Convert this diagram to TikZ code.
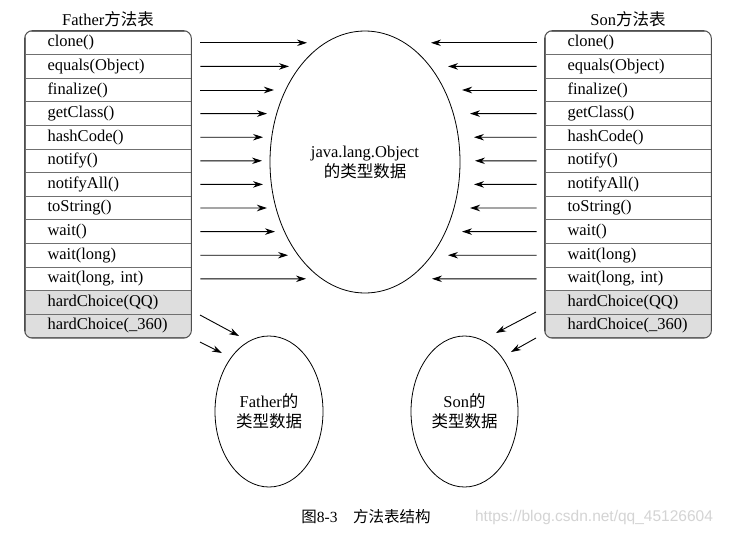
\documentclass[tikz,border=0pt]{standalone}
\usepackage{fontspec}
\setmainfont{Liberation Serif}
\newfontfamily\cjk{Noto Sans CJK SC}
\newfontfamily\wmfont{Liberation Sans}
\usetikzlibrary{shapes.geometric,arrows.meta}
\definecolor{rowgray}{HTML}{DEDEDE}
\definecolor{linegray}{HTML}{707070}
\definecolor{wmgray}{HTML}{D4D4D4}
\tikzset{
  row/.style={draw=linegray, line width=0.8pt, minimum height=23.6pt,
    text width=121pt, inner xsep=22.5pt, inner ysep=0pt, align=left,
    font=\fontsize{16.5}{20}\selectfont},
  grayrow/.style={row, fill=rowgray},
  typedata/.style={ellipse, draw, line width=0.8pt, inner sep=0pt,
    align=center, font=\fontsize{16.5}{20}\selectfont},
  arr/.style={-{Stealth[length=10pt,width=6.5pt]}, line width=0.9pt},
}
\begin{document}
\begin{tikzpicture}[x=1pt,y=-1pt]
\path[fill=white,use as bounding box] (0,0) rectangle (733,533);

% titles
\node[font=\fontsize{16.5}{20}\selectfont] (ftitle) at (108,19) {Father{\cjk 方法表}};
\node[font=\fontsize{16.5}{20}\selectfont] (stitle) at (628,19) {Son{\cjk 方法表}};

% Father method table
\begin{scope}
\clip[rounded corners=8pt] (25,31) rectangle (191,338);
\node[row] (f1) at (108,42.8) {clone()};
\node[row] (f2) at (108,66.4) {equals(Object)};
\node[row] (f3) at (108,90.0) {finalize()};
\node[row] (f4) at (108,113.6) {getClass()};
\node[row] (f5) at (108,137.2) {hashCode()};
\node[row] (f6) at (108,160.8) {notify()};
\node[row] (f7) at (108,184.4) {notifyAll()};
\node[row] (f8) at (108,208.0) {toString()};
\node[row] (f9) at (108,231.6) {wait()};
\node[row] (f10) at (108,255.2) {wait(long)};
\node[row] (f11) at (108,278.8) {wait(long, int)};
\node[grayrow] (f12) at (108,302.4) {hardChoice(QQ)};
\node[grayrow] (f13) at (108,326.0) {hardChoice(\_360)};
\end{scope}
\draw[draw=linegray!70!black, line width=1pt, rounded corners=8pt] (f1.north west) rectangle (f13.south east);

% Son method table
\begin{scope}
\clip[rounded corners=8pt] (545,31) rectangle (711,338);
\node[row] (s1) at (628,42.8) {clone()};
\node[row] (s2) at (628,66.4) {equals(Object)};
\node[row] (s3) at (628,90.0) {finalize()};
\node[row] (s4) at (628,113.6) {getClass()};
\node[row] (s5) at (628,137.2) {hashCode()};
\node[row] (s6) at (628,160.8) {notify()};
\node[row] (s7) at (628,184.4) {notifyAll()};
\node[row] (s8) at (628,208.0) {toString()};
\node[row] (s9) at (628,231.6) {wait()};
\node[row] (s10) at (628,255.2) {wait(long)};
\node[row] (s11) at (628,278.8) {wait(long, int)};
\node[grayrow] (s12) at (628,302.4) {hardChoice(QQ)};
\node[grayrow] (s13) at (628,326.0) {hardChoice(\_360)};
\end{scope}
\draw[draw=linegray!70!black, line width=1pt, rounded corners=8pt] (s1.north west) rectangle (s13.south east);

% type data
\node[typedata, minimum width=190pt, minimum height=262pt] (obj) at (365,162) {java.lang.Object\\{\cjk 的类型数据}};
\node[typedata, minimum width=108pt, minimum height=151pt] (father) at (269,411.5) {Father{\cjk 的}\\{\cjk 类型数据}};
\node[typedata, minimum width=107pt, minimum height=151pt] (son) at (464.5,411.5) {Son{\cjk 的}\\{\cjk 类型数据}};

% inherited methods point to Object
\foreach \i/\l/\r in {1/307/431, 2/289/448, 3/274/462, 4/267/470, 5/263/474, 6/262/475,
                      7/263/474, 8/267/470, 9/275/462, 10/288/448, 11/306/432}{
  \pgfmathsetmacro\yc{31+23.6*(\i-0.5)}
  \coordinate (ol\i) at (\l,\yc);
  \coordinate (or\i) at (\r,\yc);
  \draw[arr] ([xshift=9pt]f\i.east) -- (ol\i);
  \draw[arr] ([xshift=-8pt]s\i.west) -- (or\i);
}

% own methods
\coordinate (fa1) at (200,315); \coordinate (fb1) at (239,336);
\coordinate (fa2) at (200,342); \coordinate (fb2) at (222,353);
\coordinate (sa1) at (536,312); \coordinate (sb1) at (496,333);
\coordinate (sa2) at (536,338); \coordinate (sb2) at (511,352);
\draw[arr] (fa1) -- (fb1);
\draw[arr] (fa2) -- (fb2);
\draw[arr] (sa1) -- (sb1);
\draw[arr] (sa2) -- (sb2);

\node[font=\fontsize{15.5}{18}\selectfont] (caption) at (366,517) {{\cjk 图}8-3\quad{\cjk 方法表结构}};
\node[font=\wmfont\fontsize{15.5}{18}\selectfont, text=wmgray] (mark) at (594,517) {https://blog.csdn.net/qq\_45126604};
\end{tikzpicture}
\end{document}
